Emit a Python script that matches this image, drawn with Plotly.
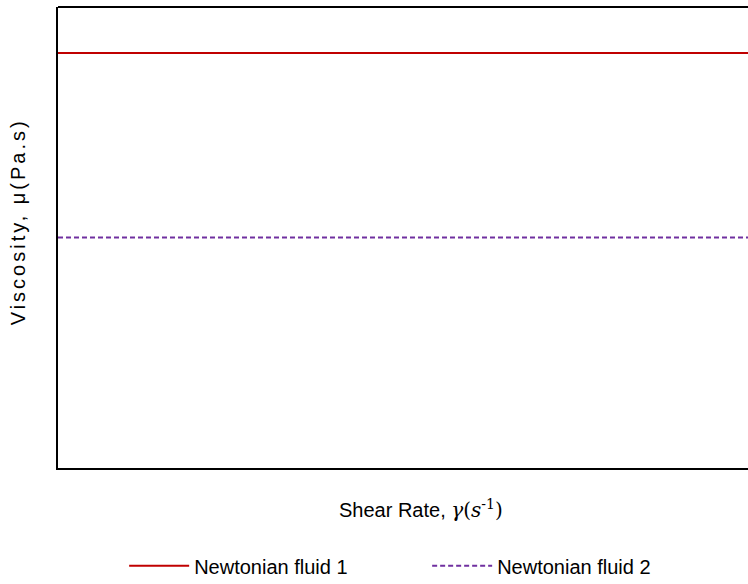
import plotly.graph_objects as go

# Shear-rate span and constant viscosities of the two Newtonian fluids
shear_rate = [0, 10]
series_names = ["Newtonian fluid 1", "Newtonian fluid 2"]
viscosity_fluid1 = [9, 9]
viscosity_fluid2 = [5, 5]

x_title = ("Shear Rate, <span style='font-family:DejaVu Serif, serif'>"
           "<i>γ</i>(<i>s</i><sup>-1</sup>)</span>")
y_title = "<span style='letter-spacing:3px'>Viscosity, μ(Pa.s)</span>"

fig = go.Figure()
fig.add_trace(go.Scatter(
    x=shear_rate, y=viscosity_fluid1, mode="lines", name=series_names[0],
    line=dict(color="#c00000", width=2),
))
fig.add_trace(go.Scatter(
    x=shear_rate, y=viscosity_fluid2, mode="lines", name=series_names[1],
    line=dict(color="#7030a0", width=2, dash="5px,3px"),
))

font = "Liberation Sans, Arial, sans-serif"
fig.update_layout(
    width=748, height=584,
    margin=dict(l=58, r=0, t=7, b=116, autoexpand=False),
    paper_bgcolor="white", plot_bgcolor="white",
    font=dict(family=font, size=20, color="black"),
    showlegend=True,
    legend=dict(
        orientation="h", x=0.535, xanchor="center", y=-0.212, yanchor="middle",
        font=dict(size=20), entrywidth=228, itemwidth=60,
    ),
    xaxis=dict(
        range=shear_rate, showticklabels=False, ticks="", showgrid=False,
        zeroline=False, showline=True, linecolor="black", linewidth=2,
    ),
    yaxis=dict(
        range=[0, 10], showticklabels=False, ticks="", showgrid=False,
        zeroline=False, showline=True, linecolor="black", linewidth=2,
    ),
    shapes=[dict(
        type="line", xref="paper", yref="paper", x0=0, x1=1, y0=1, y1=1,
        line=dict(color="black", width=2),
    )],
    annotations=[
        dict(text=x_title, xref="paper", yref="paper", x=0.526, y=-0.09,
             xanchor="center", yanchor="middle", showarrow=False,
             font=dict(size=20)),
        dict(text=y_title, xref="paper", yref="paper", x=-0.058, y=0.535,
             xanchor="center", yanchor="middle", textangle=-90,
             showarrow=False, font=dict(size=20)),
    ],
)

fig.write_html("out.html")
